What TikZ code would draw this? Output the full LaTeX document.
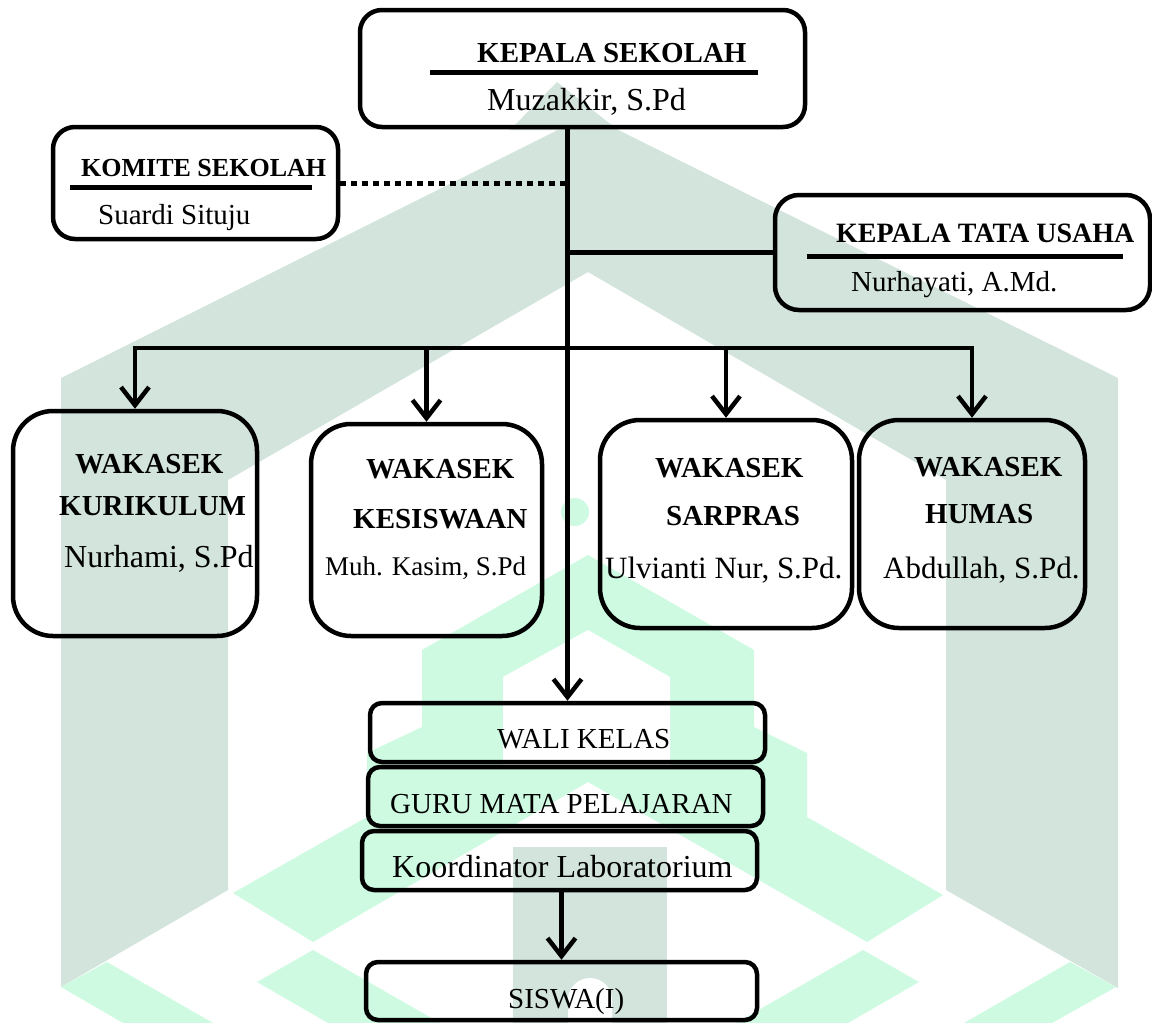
\documentclass[tikz,border=0pt]{standalone}
\usepackage{fontspec}
\setmainfont{Liberation Serif}
\usetikzlibrary{arrows.meta, positioning, calc}
\definecolor{wmgray}{RGB}{211,228,221}
\definecolor{wmmint}{RGB}{205,250,225}

\tikzset{
  orgbox/.style={draw, line width=4.5pt, inner sep=0pt, rounded corners=#1},
  orgbox/.default=20pt,
  lbl/.style={anchor=base west, inner sep=0pt, font=\fontsize{#1}{#1}\selectfont},
  blbl/.style={anchor=base west, inner sep=0pt, font=\fontsize{#1}{#1}\selectfont\bfseries},
  link/.style={line width=4.5pt},
  uline/.style={line width=5pt},
  arr/.style={line width=4.5pt, -{Straight Barb[length=18pt, width=28pt]}},
}

\begin{document}
\begin{tikzpicture}[x=1pt, y=-1pt]
  \useasboundingbox (0,0) rectangle (1152,1023);
  % watermark (logo in the background)
  \fill[wmgray] (61,378) -- (588,115) -- (1118,378) -- (1118,988) -- (946,890)
    -- (946,480) -- (588,272) -- (228,480) -- (228,890) -- (61,987) -- cycle;
  \fill[wmgray] (510,130) -- (557,82) -- (618,130) -- cycle;
  \fill[wmgray] (513,847) rectangle (667,1023);
  \fill[white] (568,1023) -- (568,1000) arc (180:360:22) -- (612,1023) -- cycle;
  \fill[wmmint] (233,893) -- (367,817) -- (367,753) -- (422,727) -- (422,650)
    -- (588,555) -- (754,650) -- (754,727) -- (807,753) -- (807,817)
    -- (943,895) -- (867,942) -- (588,782) -- (313,942) -- cycle;
  \fill[wmmint] (575,512) circle (14);
  \fill[white] (503,765) -- (503,677) -- (588,630) -- (670,677) -- (670,765) -- cycle;
  \fill[wmmint] (257,982) -- (313,950) -- (440,1023) -- (328,1023) -- cycle;
  \fill[wmmint] (919,982) -- (863,950) -- (736,1023) -- (848,1023) -- cycle;
  \fill[wmmint] (61,987) -- (107,962) -- (213,1023) -- (123,1023) -- cycle;
  \fill[wmmint] (1116,987) -- (1070,962) -- (964,1023) -- (1052,1023) -- cycle;

  % boxes
  \node[orgbox=22pt, minimum width=445pt, minimum height=117pt] (kepsek) at (582.5,68.5) {};
  \node[orgbox=22pt, minimum width=285pt, minimum height=112pt] (komite) at (195.5,183) {};
  \node[orgbox=24pt, minimum width=375pt, minimum height=115pt] (tu) at (962.5,252.5) {};
  \node[orgbox=40pt, minimum width=244pt, minimum height=225pt] (kur) at (135,523.5) {};
  \node[orgbox=40pt, minimum width=231pt, minimum height=212pt] (kes) at (426.5,530) {};
  \node[orgbox=40pt, minimum width=252pt, minimum height=208pt] (sar) at (726,524) {};
  \node[orgbox=40pt, minimum width=226pt, minimum height=208pt] (hum) at (972,524) {};
  \node[orgbox=12pt, minimum width=395pt, minimum height=59pt] (wali) at (567.5,732.5) {};
  \node[orgbox=12pt, minimum width=395pt, minimum height=59pt] (guru) at (565.5,796.5) {};
  \node[orgbox=12pt, minimum width=395pt, minimum height=59pt] (koor) at (559.5,860.5) {};
  \node[orgbox=12pt, minimum width=391pt, minimum height=58pt] (siswa) at (561.5,991) {};

  % texts
  \node[blbl=29] (kepsekT) at (477,62) {KEPALA SEKOLAH};
  \draw[uline] (430,72) -- (758,72);
  \node[lbl=32] (kepsekN) at (487,110) {Muzakkir, S.Pd};
  \node[blbl=26] (komiteT) at (81,176) {KOMITE SEKOLAH};
  \draw[uline] (70,187) -- (312,187);
  \node[lbl=29] (komiteN) at (98,224) {Suardi Situju};
  \node[blbl=28] (tuT) at (836,242) {KEPALA TATA USAHA};
  \draw[uline] (807,256) -- (1123,256);
  \node[lbl=29] (tuN) at (851,291) {Nurhayati, A.Md.};

  \node[blbl=29] (kurT) at (75,473) {WAKASEK};
  \node[blbl=29] (kurU) at (59,515) {KURIKULUM};
  \node[lbl=32] (kurN) at (64,567) {Nurhami, S.Pd};
  \node[blbl=29] (kesT) at (366,478) {WAKASEK};
  \node[blbl=29] (kesU) at (353,528) {KESISWAAN};
  \node[lbl=27] (kesN) at (325,575) {Muh. Kasim, S.Pd};
  \node[blbl=29] (sarT) at (655,477) {WAKASEK};
  \node[blbl=29] (sarU) at (666,525) {SARPRAS};
  \node[lbl=31] (sarN) at (605,578) {Ulvianti Nur, S.Pd.};
  \node[blbl=29] (humT) at (914,476) {WAKASEK};
  \node[blbl=29] (humU) at (925,523) {HUMAS};
  \node[lbl=31] (humN) at (883,578) {Abdullah, S.Pd.};

  \node[lbl=29] (waliT) at (497,748) {WALI KELAS};
  \node[lbl=29] (guruT) at (390,813) {GURU MATA PELAJARAN};
  \node[lbl=32] (koorT) at (392,877) {Koordinator Laboratorium};
  \node[lbl=29] (siswaT) at (508,1008) {SISWA(I)};

  % connectors
  \coordinate (bar) at (568,348);
  \draw[arr] (kepsek.south -| wali.north) -- (wali.north);
  \draw[line width=5pt, dash pattern=on 6pt off 5pt] (komite.east) -- (komite.east -| wali.north);
  \draw[link] (tu.west -| wali.north) -- (tu.west);
  \draw[link, line cap=rect] (bar -| kur.north) -- (bar -| hum.north);
  \foreach \wk in {kur, kes, sar, hum} {
    \draw[arr] (bar -| \wk.north) -- (\wk.north);
  }
  \draw[arr] (koor.south -| siswa.north) -- (siswa.north);
\end{tikzpicture}
\end{document}
